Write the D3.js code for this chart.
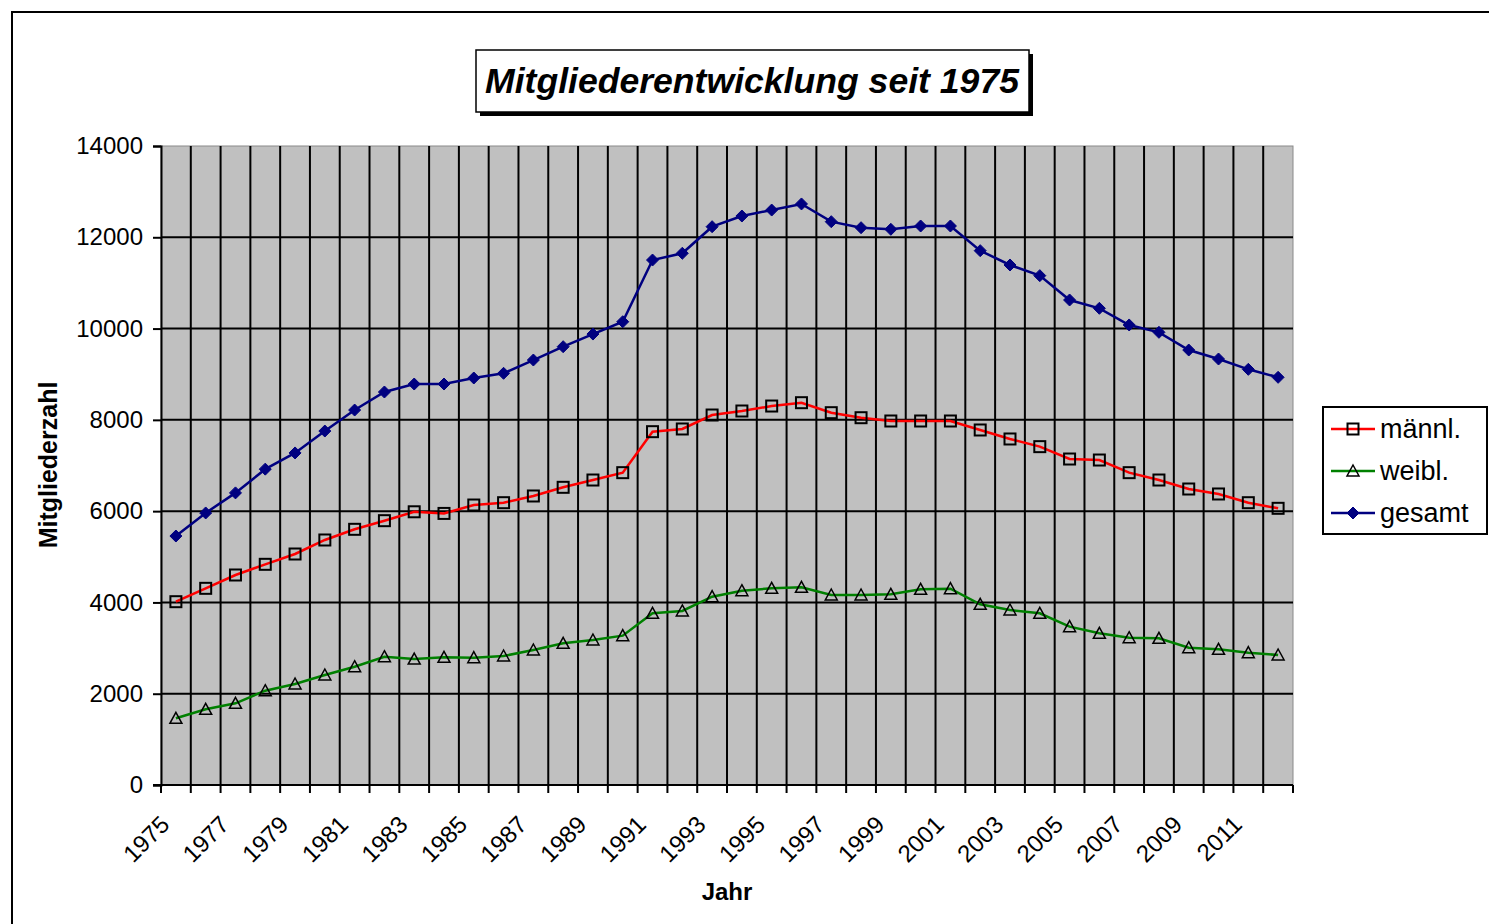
<!DOCTYPE html>
<html>
<head>
<meta charset="utf-8">
<script src="https://cdn.jsdelivr.net/npm/d3@7"></script>
<style>
  body { margin: 0; background: #fff; }
  svg text { font-family: "Liberation Sans", Arial, sans-serif; fill: #000; }
</style>
</head>
<body>
<svg class="chart" width="1489" height="924"></svg>
<script>
// data
var years = d3.range(1975, 2013);
var maennl = [4016, 4309, 4601, 4835, 5061, 5368, 5602, 5791, 5986, 5950,
              6134, 6185, 6332, 6522, 6682, 6843, 7741, 7800, 8106, 8194,
              8303, 8376, 8157, 8047, 7975, 7975, 7975, 7778, 7581, 7413,
              7142, 7120, 6843, 6682, 6485, 6376, 6185, 6062];
var weibl = [1461, 1658, 1790, 2066, 2213, 2410, 2592, 2811, 2760, 2797,
             2790, 2826, 2958, 3104, 3177, 3272, 3762, 3813, 4126, 4257,
             4309, 4331, 4163, 4163, 4178, 4287, 4302, 3959, 3834, 3762,
             3469, 3323, 3227, 3213, 3008, 2973, 2899, 2848];
var gesamt = [5455, 5960, 6400, 6920, 7275, 7755, 8215, 8610, 8785, 8785,
              8917, 9020, 9311, 9603, 9880, 10150, 11502, 11650, 12232, 12466,
              12597, 12730, 12342, 12210, 12175, 12247, 12247, 11707, 11393, 11160,
              10626, 10444, 10079, 9918, 9530, 9333, 9107, 8932];
var yTicks = [0, 2000, 4000, 6000, 8000, 10000, 12000, 14000];
var xLabels = d3.range(1975, 2013, 2);

var series = [
  {name: "männl.", values: maennl, color: "#ff0000", marker: "square"},
  {name: "weibl.", values: weibl, color: "#008000", marker: "triangle"},
  {name: "gesamt", values: gesamt, color: "#000080", marker: "diamond"}
];

var plotLeft = 161, plotRight = 1293, plotTop = 146, plotBottom = 785;

var svg = d3.select(".chart");

// outer frame
svg.append("rect")
  .attr("x", 12).attr("y", 12)
  .attr("width", 1500).attr("height", 1000)
  .attr("fill", "none").attr("stroke", "#000").attr("stroke-width", 2);

// title box with shadow
svg.append("rect")
  .attr("x", 480).attr("y", 54).attr("width", 553).attr("height", 62)
  .attr("fill", "#000");
svg.append("rect")
  .attr("x", 476).attr("y", 50).attr("width", 553).attr("height", 62)
  .attr("fill", "#fff").attr("stroke", "#000").attr("stroke-width", 1.5);
svg.append("text")
  .attr("x", 752).attr("y", 93)
  .attr("text-anchor", "middle")
  .style("font-size", "35px").style("font-weight", "bold").style("font-style", "italic")
  .attr("textLength", 534).attr("lengthAdjust", "spacingAndGlyphs")
  .text("Mitgliederentwicklung seit 1975");

// scales
var x = d3.scaleBand().domain(years).range([plotLeft, plotRight]).padding(0);
var y = d3.scaleLinear().domain([0, 14000]).range([plotBottom, plotTop]);
function cx(i) { return x(years[i]) + x.bandwidth() / 2; }

// plot area
svg.append("rect")
  .attr("x", plotLeft).attr("y", plotTop)
  .attr("width", plotRight - plotLeft).attr("height", plotBottom - plotTop)
  .attr("fill", "#c0c0c0").attr("stroke", "#8a8a8a").attr("stroke-width", 1);

// grid
svg.append("g").selectAll("line")
  .data(years.slice(1))
  .enter().append("line")
  .attr("x1", function(d) { return x(d); }).attr("x2", function(d) { return x(d); })
  .attr("y1", plotTop).attr("y2", plotBottom + 8)
  .attr("stroke", "#000").attr("stroke-width", 2);

svg.append("g").selectAll("line")
  .data(yTicks.filter(function(d) { return d > 0 && d < 14000; }))
  .enter().append("line")
  .attr("x1", plotLeft).attr("x2", plotRight)
  .attr("y1", function(d) { return y(d); }).attr("y2", function(d) { return y(d); })
  .attr("stroke", "#000").attr("stroke-width", 2);

// y axis
var yAxis = svg.append("g")
  .attr("transform", "translate(" + plotLeft + ",0)")
  .call(d3.axisLeft(y).tickValues(yTicks).tickSize(8).tickPadding(10).tickFormat(d3.format("d")));
yAxis.select(".domain").attr("stroke", "#000").attr("stroke-width", 2);
yAxis.selectAll(".tick line").attr("stroke", "#000").attr("stroke-width", 2);
yAxis.selectAll(".tick text")
  .style("font-size", "24px").style("font-family", "Liberation Sans, Arial, sans-serif")
  .attr("fill", "#000");

// x axis
svg.append("line")
  .attr("x1", plotLeft - 8).attr("x2", plotRight)
  .attr("y1", plotBottom).attr("y2", plotBottom)
  .attr("stroke", "#000").attr("stroke-width", 2);
svg.append("line")
  .attr("x1", plotRight).attr("x2", plotRight)
  .attr("y1", plotBottom).attr("y2", plotBottom + 8)
  .attr("stroke", "#000").attr("stroke-width", 2);
svg.append("line")
  .attr("x1", plotLeft).attr("x2", plotLeft)
  .attr("y1", plotBottom).attr("y2", plotBottom + 8)
  .attr("stroke", "#000").attr("stroke-width", 2);

svg.append("g").selectAll("text")
  .data(xLabels)
  .enter().append("text")
  .attr("transform", function(d) {
    return "translate(" + (x(d) + x.bandwidth() / 2 - 5) + "," + 826 + ") rotate(-45)";
  })
  .attr("text-anchor", "end")
  .style("font-size", "24px")
  .text(function(d) { return d; });

// axis titles
svg.append("text")
  .attr("x", 727).attr("y", 900)
  .attr("text-anchor", "middle")
  .style("font-size", "24px").style("font-weight", "bold")
  .text("Jahr");

svg.append("text")
  .attr("transform", "translate(57,465) rotate(-90)")
  .attr("text-anchor", "middle")
  .style("font-size", "25px").style("font-weight", "bold")
  .text("Mitgliederzahl");

// markers
function drawMarker(g, type, color) {
  if (type == "square") {
    g.append("rect").attr("x", -5.5).attr("y", -5.5).attr("width", 11).attr("height", 11)
      .attr("fill", "none").attr("stroke", "#000").attr("stroke-width", 2);
  } else if (type == "triangle") {
    g.append("path").attr("d", "M0,-6L6,5L-6,5Z")
      .attr("fill", "none").attr("stroke", "#000").attr("stroke-width", 1.5);
  } else {
    g.append("path").attr("d", "M0,-6L6,0L0,6L-6,0Z")
      .attr("fill", color).attr("stroke", color).attr("stroke-width", 1);
  }
}

var line = d3.line()
  .x(function(d, i) { return cx(i); })
  .y(function(d) { return y(d); });

series.forEach(function(s) {
  svg.append("path")
    .datum(s.values)
    .attr("d", line)
    .attr("fill", "none").attr("stroke", s.color).attr("stroke-width", 2.5);
  svg.append("g").selectAll("g")
    .data(s.values)
    .enter().append("g")
    .attr("transform", function(d, i) { return "translate(" + cx(i) + "," + y(d) + ")"; })
    .each(function() { drawMarker(d3.select(this), s.marker, s.color); });
});

// legend
var legend = svg.append("g");
legend.append("rect")
  .attr("x", 1323).attr("y", 407).attr("width", 164).attr("height", 127)
  .attr("fill", "#fff").attr("stroke", "#000").attr("stroke-width", 2);
series.forEach(function(s, i) {
  var ly = 429 + i * 42;
  legend.append("line")
    .attr("x1", 1331).attr("x2", 1375).attr("y1", ly).attr("y2", ly)
    .attr("stroke", s.color).attr("stroke-width", 2.5);
  var m = legend.append("g").attr("transform", "translate(1353," + ly + ")");
  drawMarker(m, s.marker, s.color);
  legend.append("text")
    .attr("x", 1380).attr("y", ly + 9)
    .style("font-size", "27px")
    .text(s.name);
});
</script>
</body>
</html>
